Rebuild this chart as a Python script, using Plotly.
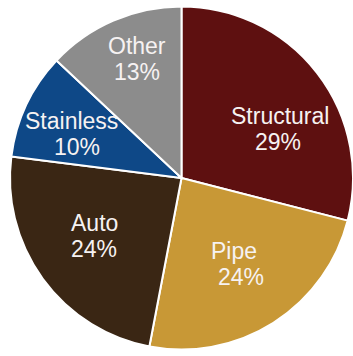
import plotly.graph_objects as go

# Steel end-market share
segments = ["Structural", "Pipe", "Auto", "Stainless", "Other"]
shares = [29, 24, 24, 10, 13]
colors = ["#5E1010", "#C89836", "#3A2614", "#0E4887", "#8C8C8C"]

W, H = 353, 356
# pie placement in pixels (left edge of the pie domain)
pie_left = 10

# label anchor points in pixels: (name x, name y, value x, value y)
label_px = {
    "Structural": (280, 116, 278, 142),
    "Pipe": (234, 251, 241, 277),
    "Auto": (94, 223, 94, 249),
    "Stainless": (71, 121, 77, 147),
    "Other": (137, 46, 137, 72),
}

fig = go.Figure(
    go.Pie(
        labels=segments,
        values=shares,
        sort=False,
        direction="clockwise",
        rotation=0,
        marker=dict(colors=colors, line=dict(color="white", width=2)),
        textinfo="none",
        showlegend=False,
        hoverinfo="label+percent",
        domain=dict(x=[pie_left / W, 1], y=[0, 1]),
    )
)

font = dict(family="Liberation Sans, Arial, sans-serif", size=23, color="#F6F2F2")
for name, share in zip(segments, shares):
    nx, ny, vx, vy = label_px[name]
    for text, px, py in ((name, nx, ny), (f"{share}%", vx, vy)):
        fig.add_annotation(
            text=text,
            x=px / W,
            y=1 - py / H,
            xref="paper",
            yref="paper",
            xanchor="center",
            yanchor="middle",
            showarrow=False,
            font=font,
        )

fig.update_layout(
    width=W,
    height=H,
    margin=dict(l=0, r=0, t=0, b=0),
    paper_bgcolor="white",
    plot_bgcolor="white",
)

fig.write_html("out.html")
